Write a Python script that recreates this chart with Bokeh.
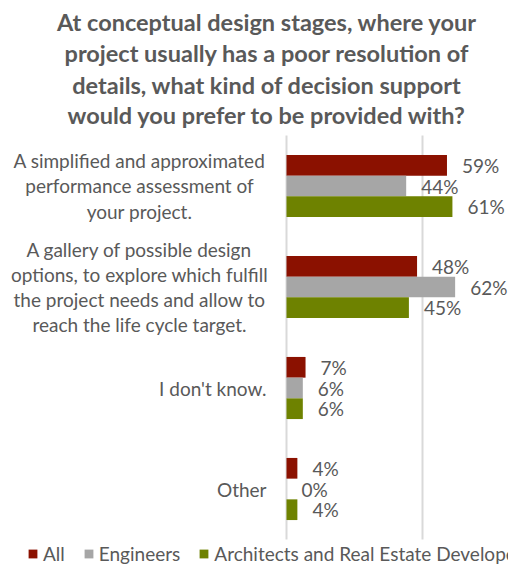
from bokeh.plotting import figure
from bokeh.models import Range1d, Legend, LegendItem, ColumnDataSource
from bokeh.embed import file_html
from bokeh.resources import INLINE
from bokeh.core.properties import value

# ---- data ----
title_lines = [
    "At conceptual design stages, where your",
    "project usually has a poor resolution of",
    "details, what kind of decision support",
    "would you prefer to be provided with?",
]
categories = [
    "A simplified and approximated\nperformance assessment of\nyour project.",
    "A gallery of possible design\noptions, to explore which fulfill\nthe project needs and allow to\nreach the life cycle target.",
    "I don't know.",
    "Other",
]
series_names = ["All", "Engineers", "Architects and Real Estate Developers"]
all_vals = [59, 48, 7, 4]
eng_vals = [44, 62, 6, 0]
arch_vals = [61, 45, 6, 4]
colors = ["#8B1100", "#A6A6A6", "#6E8200"]
gridlines = [0, 50]

FONT = "Lato"
TXT = "#595959"

# ---- layout (pixels) ----
W, H = 508, 564
X0 = 286            # pixel of 0 %
PXU = 2.72          # pixels per %
PT, PB = 135, 539   # plot area top / bottom
n = len(categories)
CAT = (PB - PT) / n

p = figure(width=W, height=H, output_backend="svg", toolbar_location=None,
           x_range=Range1d(-X0 / PXU, (W - X0) / PXU),
           y_range=Range1d(-(H - PB) / CAT, n + PT / CAT),
           min_border=0)
p.axis.visible = False
p.xgrid.visible = False
p.ygrid.visible = False
p.outline_line_color = None
p.background_fill_color = "white"
p.border_fill_color = "white"

# axis line + gridline
p.segment(x0=gridlines, x1=gridlines, y0=[0] * len(gridlines), y1=[n] * len(gridlines),
          line_color="#D9D9D9", line_width=2)

centers = [n - 0.5 - i for i in range(n)]
bh = 0.205
offsets = [bh, 0.0, -bh]
renderers = []
for vals, off, col in zip([all_vals, eng_vals, arch_vals], offsets, colors):
    src = ColumnDataSource(dict(
        y=[c + off for c in centers], right=vals,
        lab=[f"{v}%" for v in vals]))
    r = p.hbar(y="y", left=0, right="right", height=bh, source=src,
               fill_color=col, line_color=None)
    renderers.append(r)
    p.text(x="right", y="y", text="lab", source=src, x_offset=15,
           text_align="left", text_baseline="middle",
           text_font=value(FONT), text_font_size="19px", text_color=TXT)

# category labels
multi = ["\n" in c for c in categories]
cat_src = ColumnDataSource(dict(
    x=[(139 - X0) / PXU if m else (266 - X0) / PXU for m in multi],
    y=centers, t=categories,
    align=["center" if m else "right" for m in multi]))
p.text(x="x", y="y", text="t", source=cat_src, text_align="align",
       text_baseline="middle", text_font=value(FONT), text_font_size="19px",
       text_color=TXT, text_line_height=1.1)

# title
baselines = [21, 52.5, 84, 114.5]
title_src = ColumnDataSource(dict(
    x=[(266.5 - X0) / PXU] * len(title_lines),
    y=[n + (PT - b) / CAT for b in baselines], t=title_lines))
p.text(x="x", y="y", text="t", source=title_src, text_align="center",
       text_baseline="alphabetic", text_font=value(FONT), text_font_size="23.5px",
       text_font_style="bold", text_color=TXT)

legend = Legend(
    items=[LegendItem(label=s, renderers=[r]) for s, r in zip(series_names, renderers)],
    orientation="horizontal", location=(27, -1),
    glyph_width=11, glyph_height=11, label_standoff=5, spacing=18,
    padding=0, margin=0, border_line_color=None, background_fill_alpha=0,
    label_text_font=FONT, label_text_font_size="19px", label_text_color=TXT)
p.add_layout(legend)

open("out.html", "w").write(file_html(p, INLINE))
